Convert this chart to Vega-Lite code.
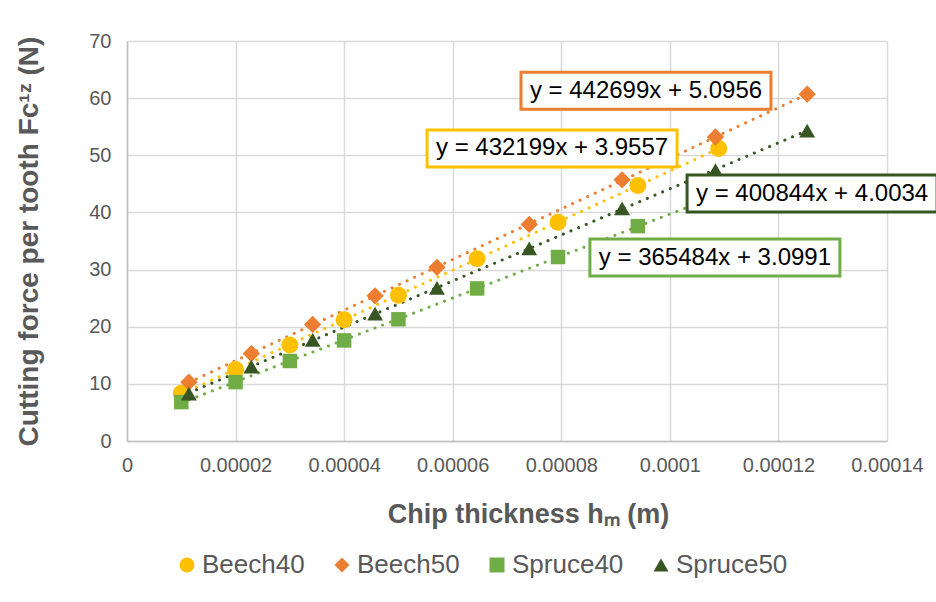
{
  "$schema": "https://vega.github.io/schema/vega-lite/v6.json",
  "width": 760,
  "height": 400,
  "autosize": "none",
  "padding": {"left": 127, "top": 41, "right": 49, "bottom": 161},
  "background": "white",
  "config": {
    "font": "Liberation Sans",
    "view": {"stroke": null},
    "axis": {
      "ticks": false,
      "labelFontSize": 20,
      "labelColor": "#595959",
      "labelFlush": false,
      "labelOverlap": false,
      "domainColor": "#BFBFBF",
      "domainWidth": 1.5,
      "gridColor": "#D9D9D9",
      "gridWidth": 1.5,
      "titleFontWeight": "bold",
      "titleColor": "#595959"
    }
  },
  "datasets": {
    "measurements": [
      {"series": "Beech40", "h_m": 0.00001, "force": 8.37},
      {"series": "Beech40", "h_m": 0.00002, "force": 12.5},
      {"series": "Beech40", "h_m": 0.00003, "force": 16.8},
      {"series": "Beech40", "h_m": 0.00004, "force": 21.2},
      {"series": "Beech40", "h_m": 0.00005, "force": 25.5},
      {"series": "Beech40", "h_m": 0.0000645, "force": 31.9},
      {"series": "Beech40", "h_m": 0.0000794, "force": 38.3},
      {"series": "Beech40", "h_m": 0.0000941, "force": 44.7},
      {"series": "Beech40", "h_m": 0.000109, "force": 51.2},
      {"series": "Beech50", "h_m": 0.0000114, "force": 10.3},
      {"series": "Beech50", "h_m": 0.0000229, "force": 15.3},
      {"series": "Beech50", "h_m": 0.0000342, "force": 20.4},
      {"series": "Beech50", "h_m": 0.0000457, "force": 25.4},
      {"series": "Beech50", "h_m": 0.0000571, "force": 30.4},
      {"series": "Beech50", "h_m": 0.0000741, "force": 37.9},
      {"series": "Beech50", "h_m": 0.0000912, "force": 45.7},
      {"series": "Beech50", "h_m": 0.0001084, "force": 53.2},
      {"series": "Beech50", "h_m": 0.0001253, "force": 60.7},
      {"series": "Spruce40", "h_m": 0.00001, "force": 6.8},
      {"series": "Spruce40", "h_m": 0.00002, "force": 10.3},
      {"series": "Spruce40", "h_m": 0.00003, "force": 14.0},
      {"series": "Spruce40", "h_m": 0.00004, "force": 17.6},
      {"series": "Spruce40", "h_m": 0.00005, "force": 21.3},
      {"series": "Spruce40", "h_m": 0.0000645, "force": 26.7},
      {"series": "Spruce40", "h_m": 0.0000794, "force": 32.2},
      {"series": "Spruce40", "h_m": 0.0000941, "force": 37.6},
      {"series": "Spruce40", "h_m": 0.000109, "force": 43.0},
      {"series": "Spruce50", "h_m": 0.0000114, "force": 8.3},
      {"series": "Spruce50", "h_m": 0.0000229, "force": 13.0},
      {"series": "Spruce50", "h_m": 0.0000342, "force": 17.7},
      {"series": "Spruce50", "h_m": 0.0000457, "force": 22.3},
      {"series": "Spruce50", "h_m": 0.0000571, "force": 26.8},
      {"series": "Spruce50", "h_m": 0.0000741, "force": 33.7},
      {"series": "Spruce50", "h_m": 0.0000912, "force": 40.7},
      {"series": "Spruce50", "h_m": 0.0001084, "force": 47.4},
      {"series": "Spruce50", "h_m": 0.0001253, "force": 54.3}
    ],
    "equations": [
      {"series": "Beech40", "h_m": 0.0000783, "force": 51.2, "label": "y = 432199x + 3.9557"},
      {"series": "Beech50", "h_m": 0.0000956, "force": 61.3, "label": "y = 442699x + 5.0956"},
      {"series": "Spruce40", "h_m": 0.0001083, "force": 32.1, "label": "y = 365484x + 3.0991"},
      {"series": "Spruce50", "h_m": 0.0001262, "force": 43.3, "label": "y = 400844x + 4.0034"}
    ]
  },
  "encoding": {
    "x": {
      "field": "h_m",
      "type": "quantitative",
      "scale": {"domain": [0, 0.00014], "nice": false, "zero": false},
      "axis": {
        "values": [0, 0.00002, 0.00004, 0.00006, 0.00008, 0.0001, 0.00012, 0.00014],
        "format": ".5~f",
        "labelPadding": 14,
        "titlePadding": 26,
        "titleFontSize": 27,
        "titleX": 401
      },
      "title": "Chip thickness hₘ (m)"
    },
    "y": {
      "field": "force",
      "type": "quantitative",
      "scale": {"domain": [0, 70], "nice": false},
      "axis": {
        "values": [0, 10, 20, 30, 40, 50, 60, 70],
        "labelPadding": 16,
        "titlePadding": 45,
        "titleFontSize": 28
      },
      "title": "Cutting force per tooth Fc¹ᶻ (N)"
    }
  },
  "layer": [
    {
      "data": {"name": "measurements"},
      "transform": [
        {"regression": "force", "on": "h_m", "groupby": ["series"]}
      ],
      "mark": {
        "type": "line",
        "strokeWidth": 3,
        "strokeDash": [0.1, 8.2],
        "strokeCap": "round"
      },
      "encoding": {
        "stroke": {
          "field": "series",
          "type": "nominal",
          "scale": {
            "domain": ["Beech50", "Beech40", "Spruce40", "Spruce50"],
            "range": ["#ED7D31", "#FFC000", "#70AD47", "#375623"]
          },
          "legend": null
        }
      }
    },
    {
      "data": {"name": "measurements"},
      "mark": {"type": "point", "filled": true, "opacity": 1},
      "encoding": {
        "color": {
          "field": "series",
          "type": "nominal",
          "scale": {
            "domain": ["Beech40", "Beech50", "Spruce40", "Spruce50"],
            "range": ["#FFC000", "#ED7D31", "#70AD47", "#375623"]
          },
          "legend": {
            "orient": "none",
            "legendX": 47,
            "legendY": 511,
            "direction": "horizontal",
            "gridAlign": "none",
            "title": null,
            "padding": 0,
            "symbolSize": 225,
            "symbolOpacity": 1,
            "labelFontSize": 26,
            "labelColor": "#595959",
            "labelOffset": 2,
            "columnPadding": 24
          }
        },
        "shape": {
          "field": "series",
          "type": "nominal",
          "scale": {
            "domain": ["Beech40", "Beech50", "Spruce40", "Spruce50"],
            "range": ["circle", "diamond", "square", "triangle-up"]
          }
        },
        "size": {
          "field": "series",
          "type": "nominal",
          "scale": {
            "type": "ordinal",
            "domain": ["Spruce50", "Spruce40", "Beech50", "Beech40"],
            "range": [250, 210, 300, 289]
          },
          "legend": null
        }
      }
    },
    {
      "data": {"name": "equations"},
      "mark": {
        "type": "point",
        "shape": "M-1,-0.148H1V0.148H-1Z",
        "size": 62500,
        "filled": false,
        "fill": "white",
        "fillOpacity": 1,
        "strokeWidth": 3,
        "opacity": 1
      },
      "encoding": {
        "stroke": {
          "field": "series",
          "type": "nominal",
          "scale": {
            "domain": ["Beech50", "Beech40", "Spruce40", "Spruce50"],
            "range": ["#ED7D31", "#FFC000", "#70AD47", "#375623"]
          },
          "legend": null
        }
      }
    },
    {
      "data": {"name": "equations"},
      "mark": {
        "type": "text",
        "fontSize": 24,
        "color": "black",
        "align": "center",
        "baseline": "middle"
      },
      "encoding": {
        "text": {"field": "label"}
      }
    }
  ]
}
